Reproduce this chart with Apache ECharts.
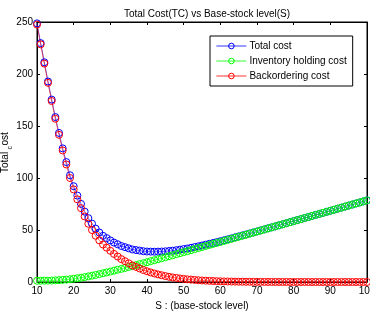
<!DOCTYPE html>
<html>
<head>
<meta charset="utf-8">
<script src="https://cdn.jsdelivr.net/npm/echarts@6/dist/echarts.min.js"></script>
<style>
html,body{margin:0;padding:0;background:#fff;}
#chart{width:370px;height:314px;}
</style>
</head>
<body>
<div id="chart"></div>
<script>
// Base-stock levels S = 10..100
var sLevels = [10,11,12,13,14,15,16,17,18,19,20,21,22,23,24,25,26,27,28,29,30,31,32,33,34,35,36,37,38,39,40,41,42,43,44,45,46,47,48,49,50,51,52,53,54,55,56,57,58,59,60,61,62,63,64,65,66,67,68,69,70,71,72,73,74,75,76,77,78,79,80,81,82,83,84,85,86,87,88,89,90,91,92,93,94,95,96,97,98,99,100];

var totalCost = [
248.7,229.7,211.3,192.8,175.4,158.6,143.3,128.5,115.3,102.6,
92.1,83.1,75.1,67.7,61.4,56.1,51.3,47.6,44.4,42.2,
40.0,37.9,36.3,34.6,33.5,32.4,31.3,30.7,30.2,29.6,
29.3,29.2,29.1,29.2,29.3,29.5,29.8,30.1,30.6,31.1,
31.7,32.2,32.9,33.6,34.3,35.1,35.9,36.7,37.5,38.3,
39.2,40.1,41.0,41.9,42.9,43.8,44.8,45.7,46.7,47.6,
48.6,49.6,50.6,51.6,52.55,53.5,54.5,55.5,56.5,57.5,
58.5,59.5,60.5,61.5,62.5,63.5,64.5,65.5,66.5,67.5,
68.5,69.5,70.5,71.5,72.5,73.5,74.5,75.5,76.5,77.5,78.5];

var holdingCost = [
1.2,1.2,1.3,1.3,1.4,1.6,1.8,2.0,2.3,2.6,
3.1,3.6,4.1,4.7,5.4,6.1,6.8,7.6,8.4,9.2,
10.0,10.9,11.8,12.6,13.5,14.4,15.3,16.2,17.2,18.1,
19.0,20.0,20.9,21.9,22.8,23.8,24.8,25.7,26.7,27.7,
28.7,29.6,30.6,31.6,32.6,33.6,34.6,35.6,36.6,37.5,
38.5,39.5,40.5,41.5,42.5,43.5,44.5,45.5,46.5,47.5,
48.5,49.5,50.5,51.5,52.5,53.5,54.5,55.5,56.5,57.5,
58.5,59.5,60.5,61.5,62.5,63.5,64.5,65.5,66.5,67.5,
68.5,69.5,70.5,71.5,72.5,73.5,74.5,75.5,76.5,77.5,78.5];

var backorderCost = [
247.5,228.5,210,191.5,174,157,141.5,126.5,113,100,
89,79.5,71,63,56,50,44.5,40,36,33,
30,27,24.5,22,20,18,16,14.5,13,11.5,
10.3,9.2,8.2,7.3,6.5,5.7,5.0,4.4,3.9,3.4,
3.0,2.6,2.3,2.0,1.7,1.5,1.3,1.1,0.95,0.8,
0.7,0.6,0.5,0.42,0.36,0.3,0.25,0.2,0.17,0.14,
0.12,0.1,0.08,0.06,0.05,0.04,0.03,0.03,0.02,0.02,
0.01,0.01,0.01,0.01,0,0,0,0,0,0,
0,0,0,0,0,0,0,0,0,0,0];

var seriesNames = ['Total cost','Inventory holding cost','Backordering cost'];
var seriesColors = ['#0000ff','#00ff00','#ff0000'];
var seriesValues = [totalCost, holdingCost, backorderCost];

var FONT = 'Liberation Sans, Arial, sans-serif';

function pairs(vals){
  return sLevels.map(function(s,i){ return [s, vals[i]]; });
}

var chart = echarts.init(document.getElementById('chart'), null, {renderer:'canvas'});

var series = seriesNames.map(function(name, k){
  return {
    name: name,
    type: 'line',
    data: pairs(seriesValues[k]),
    symbol: 'circle',
    symbolSize: 7,
    showAllSymbol: true,
    clip: false,
    animation: false,
    lineStyle: {color: seriesColors[k], width: 0.6},
    itemStyle: {color: 'rgba(255,255,255,0)', borderColor: seriesColors[k], borderWidth: 1},
    emphasis: {disabled: true}
  };
});

var tickStyle = {inside: true, length: 3, lineStyle: {color: '#000', width: 1}};

chart.setOption({
  animation: false,
  backgroundColor: '#fff',
  title: {
    text: 'Total Cost(TC) vs Base-stock level(S)',
    left: 202, top: 4, textAlign: 'center',
    textStyle: {fontFamily: FONT, fontSize: 10, fontWeight: 'normal', color: '#000'}
  },
  legend: {
    data: seriesNames,
    orient: 'vertical',
    left: 210, top: 36,
    backgroundColor: '#fff',
    borderColor: '#000', borderWidth: 1,
    padding: [5, 6, 5, 6],
    itemGap: 5,
    itemWidth: 30, itemHeight: 7,
    itemStyle: {borderWidth: 1},
    lineStyle: {width: 0.8},
    textStyle: {fontFamily: FONT, fontSize: 10, color: '#000', padding:[0,0,0,-2]}
  },
  grid: {left: 37, right: 3, top: 22, bottom: 32, outerBoundsMode: 'none', containLabel: false, show: true, borderColor: '#000', borderWidth: 1, backgroundColor: '#fff'},
  graphic: [{
    type: 'group', x: 5, y: 153, rotation: Math.PI / 2, silent: true,
    children: [
      {type: 'text', x: -20, y: 0, style: {text: 'Total', fontFamily: FONT, fontSize: 10, fill: '#000', textAlign: 'left', textVerticalAlign: 'middle'}},
      {type: 'text', x: 3.5, y: 5, style: {text: 'c', fontFamily: FONT, fontSize: 7, fill: '#000', textAlign: 'left', textVerticalAlign: 'middle'}},
      {type: 'text', x: 7.5, y: 0, style: {text: 'ost', fontFamily: FONT, fontSize: 10, fill: '#000', textAlign: 'left', textVerticalAlign: 'middle'}}
    ]
  }],
  xAxis: [{
    type: 'value', min: 10, max: 100, interval: 10, position: 'bottom',
    axisLine: {show: true, onZero: false, lineStyle: {color: '#000', width: 1}},
    axisTick: tickStyle,
    splitLine: {show: false},
    axisLabel: {color: '#000', fontSize: 10, fontFamily: FONT, margin: 4, showMaxLabel: true, showMinLabel: true},
    name: 'S : (base-stock level)', nameLocation: 'middle', nameGap: 16,
    nameTextStyle: {fontFamily: FONT, fontSize: 10, color: '#000'}
  }, {
    type: 'value', min: 10, max: 100, interval: 10, position: 'top',
    axisLine: {show: true, onZero: false, lineStyle: {color: '#000', width: 1}},
    axisTick: tickStyle,
    splitLine: {show: false},
    axisLabel: {show: false}
  }],
  yAxis: [{
    type: 'value', min: 0, max: 250, interval: 50, position: 'left',
    axisLine: {show: true, onZero: false, lineStyle: {color: '#000', width: 1}},
    axisTick: tickStyle,
    splitLine: {show: false},
    axisLabel: {color: '#000', fontSize: 10, fontFamily: FONT, margin: 4}
  }, {
    type: 'value', min: 0, max: 250, interval: 50, position: 'right',
    axisLine: {show: true, onZero: false, lineStyle: {color: '#000', width: 1}},
    axisTick: tickStyle,
    splitLine: {show: false},
    axisLabel: {show: false}
  }],
  series: series
});
</script>
</body>
</html>
